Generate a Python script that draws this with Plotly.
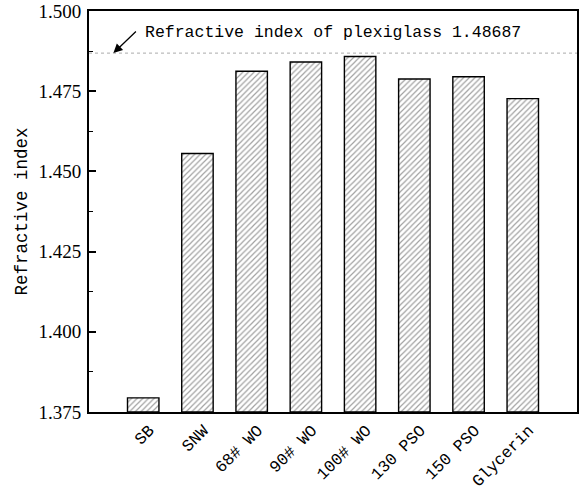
import plotly.graph_objects as go

# Refractive index of each liquid sample
samples = ["SB", "SNW", "68# WO", "90# WO", "100# WO", "130 PSO", "150 PSO", "Glycerin"]
refractive_index = [1.3794, 1.4556, 1.4812, 1.4841, 1.4858, 1.4788, 1.4795, 1.4727]

plexiglass_value = 1.48687
plexiglass_label = "Refractive index of plexiglass 1.48687"

y_floor = 1.375
y_ticks = [1.375, 1.400, 1.425, 1.450, 1.475, 1.500]
y_tick_text = ["1.375", "1.400", "1.425", "1.450", "1.475", "1.500"]

mono = "Liberation Mono"
serif = "Liberation Serif"

positions = list(range(len(samples)))

fig = go.Figure()
fig.add_trace(go.Bar(
    x=positions,
    y=[v - y_floor for v in refractive_index],
    base=y_floor,
    width=0.58,
    marker=dict(
        color="white",
        line=dict(color="black", width=1.4),
        pattern=dict(shape="/", fgcolor="#444444", bgcolor="white",
                     size=4, solidity=0.3),
    ),
    showlegend=False,
))

# dotted reference line for plexiglass
fig.add_shape(type="line", xref="paper", yref="y", x0=0, x1=1,
              y0=plexiglass_value, y1=plexiglass_value,
              line=dict(color="#aaaaaa", width=1, dash="dot"))

fig.add_annotation(x=0.05, y=plexiglass_value, xref="paper", yref="y",
                   ax=24, ay=-23, axref="pixel", ayref="pixel",
                   text="", showarrow=True, arrowhead=2, arrowsize=1.4,
                   arrowwidth=1.3, arrowcolor="black")

fig.add_annotation(x=0.111, y=1.4933, xref="paper", yref="y",
                   text=plexiglass_label, showarrow=False,
                   xanchor="left", yanchor="middle",
                   font=dict(family=mono, size=16.5, color="black"))

fig.update_layout(
    width=582, height=491,
    margin=dict(l=89, r=5, t=11, b=79),
    paper_bgcolor="white", plot_bgcolor="white",
    xaxis=dict(
        range=[-1.0, 8.0],
        tickvals=positions,
        ticktext=samples,
        tickangle=-45,
        ticklabelshift=6,
        ticks="",
        automargin=False,
        tickfont=dict(family=mono, size=16.5, color="black"),
        showline=True, linecolor="black", linewidth=2, mirror=True,
        showgrid=False, zeroline=False,
    ),
    yaxis=dict(
        range=[y_floor, 1.500],
        tickvals=y_ticks,
        ticktext=y_tick_text,
        ticks="inside", ticklen=7, tickwidth=1.5, tickcolor="black",
        minor=dict(ticks="inside", ticklen=4, tickwidth=1.2,
                   tickcolor="black", dtick=0.0125, tick0=y_floor),
        tickfont=dict(family=serif, size=19, color="black"),
        ticklabelstandoff=2,
        automargin=False,
        title=dict(text="Refractive index", standoff=6,
                   font=dict(family=mono, size=17.5, color="black")),
        showline=True, linecolor="black", linewidth=2, mirror=True,
        showgrid=False, zeroline=False,
    ),
)

fig.write_html("out.html")
